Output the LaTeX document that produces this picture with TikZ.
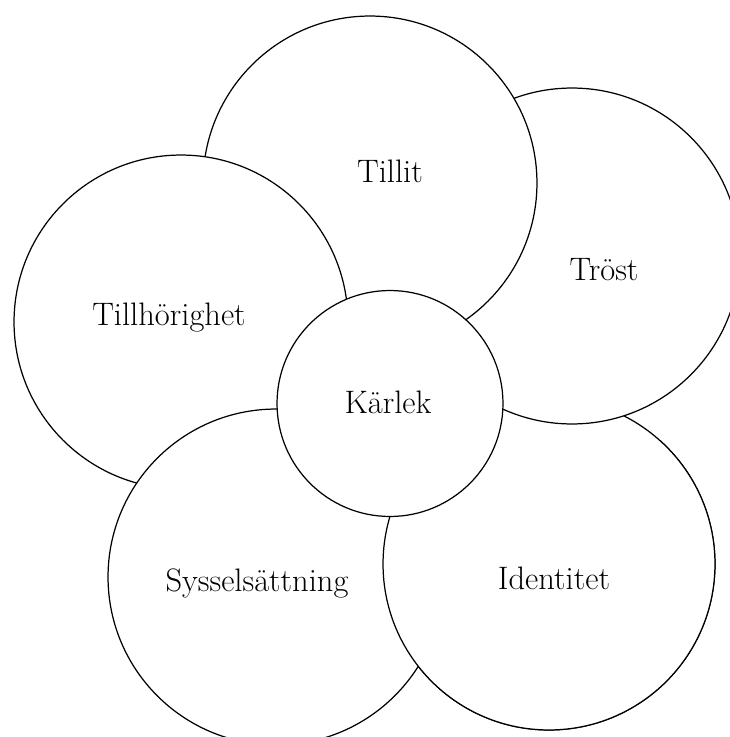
\documentclass[tikz,border=0pt]{standalone}
\usepackage{fontspec}
\usepackage{tikz}
\tikzset{
  Kreis/.style={circle, draw, fill=white, line width=0.7pt, inner sep=0pt, minimum size=#1}, % Kreise
  Wort/.style={anchor=base, inner sep=0pt, font=\fontsize{18.5}{22}\selectfont} % Beschriftung
}

\begin{document}
\begin{tikzpicture}[x=0.02cm, y=-0.02cm]
\clip (0,0) rectangle (730,737);

%Kreise, von unten nach oben
\node[Kreis=6.64cm] (identitet) at (549,564) {};
\node[Kreis=6.72cm] (troest) at (572,256) {};
\node[Kreis=6.68cm] (tillit) at (370,183) {};
\node[Kreis=6.68cm] (tillhoerighet) at (181,322) {};
\node[Kreis=6.72cm] (syssel) at (276,577) {};

%Identitet nochmals, nur unterer Teil (liegt auf Sysselsaettning)
\begin{scope}
\clip (300,440) rectangle (730,737);
\node[Kreis=6.64cm] (identitetUnten) at (identitet.center) {};
\end{scope}

\node[Kreis=4.52cm] (kaerlek) at (390,403.5) {};

%Beschriftungen
\node[Wort] (tTillit) at (390,182) {Tillit};
\node[Wort] (tTroest) at (604,280) {Tröst};
\node[Wort] (tTillhoerighet) at (169,325) {Tillhörighet};
\node[Wort] (tKaerlek) at (388,413) {Kärlek};
\node[Wort] (tSyssel) at (257,591) {Sysselsättning};
\node[Wort] (tIdentitet) at (554,589) {Identitet};

\end{tikzpicture}
\end{document}
